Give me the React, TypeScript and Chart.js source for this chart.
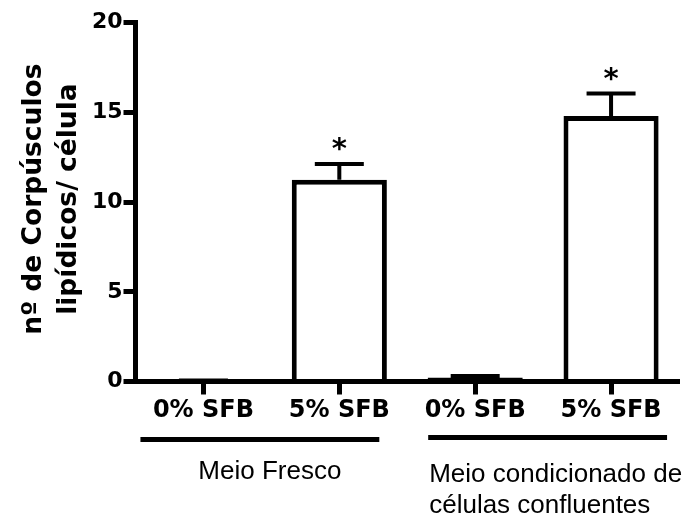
import React, { useEffect, useRef } from "react";
import { Chart, registerables } from "chart.js";

Chart.register(...registerables);

// ---- data ----
const categories = ["0% SFB", "5% SFB", "0% SFB", "5% SFB"];
const means = [0.03, 11.25, 0.22, 14.8];
const sems = [0.02, 0.88, 0.08, 1.25];
const significant = [false, true, false, true];
const yTickMin = 0;
const yTickMax = 20;
const yTickStep = 5;
const yTitleLines = ["nº de Corpúsculos", "lipídicos/ célula"];
const groupLabels = [["Meio Fresco"], ["Meio condicionado de", "células confluentes"]];
const groupRanges = [[0, 1], [2, 3]];

const BOLD = '"DejaVu Sans", sans-serif';
const REG = '"Liberation Sans", Arial, sans-serif';

const annotationsPlugin = {
  id: "annotations",
  afterDatasetsDraw(chart: any) {
    const ctx = chart.ctx;
    const x = chart.scales.x;
    const y = chart.scales.y;
    ctx.save();
    ctx.strokeStyle = "#000";
    ctx.fillStyle = "#000";
    ctx.lineWidth = 4;
    ctx.lineCap = "butt";
    means.forEach((m, i) => {
      const cx = x.getPixelForValue(i);
      const yTop = y.getPixelForValue(m);
      const yErr = y.getPixelForValue(m + sems[i]);
      ctx.beginPath();
      ctx.moveTo(cx, yTop);
      ctx.lineTo(cx, yErr);
      ctx.moveTo(cx - 24.5, yErr);
      ctx.lineTo(cx + 24.5, yErr);
      ctx.stroke();
      if (significant[i]) {
        ctx.font = "bold 29px " + BOLD;
        ctx.textAlign = "center";
        ctx.textBaseline = "alphabetic";
        ctx.fillText("*", cx, yErr - 6);
      }
    });
    ctx.restore();
  },
  afterDraw(chart: any) {
    const ctx = chart.ctx;
    const x = chart.scales.x;
    const area = chart.chartArea;
    ctx.save();
    ctx.fillStyle = "#000";
    ctx.strokeStyle = "#000";
    // group lines & labels
    const lineY = [439.5, 437.5];
    const lineOff = [[-63, 40], [-47, 56]];
    groupRanges.forEach((r, g) => {
      const x0 = x.getPixelForValue(r[0]) + lineOff[g][0];
      const x1 = x.getPixelForValue(r[1]) + lineOff[g][1];
      ctx.lineWidth = 5;
      ctx.beginPath();
      ctx.moveTo(x0, lineY[g]);
      ctx.lineTo(x1, lineY[g]);
      ctx.stroke();
      ctx.font = "26px " + REG;
      ctx.textBaseline = "alphabetic";
      const lines = groupLabels[g];
      if (lines.length === 1) {
        ctx.textAlign = "center";
        ctx.fillText(lines[0], (x0 + x1) / 2 + 10, 479);
      } else {
        ctx.textAlign = "left";
        lines.forEach((t, k) => ctx.fillText(t, x0 + 1, 482 + k * 31));
      }
    });
    // y title
    const cy = (area.top + area.bottom) / 2 - 3;
    ctx.save();
    ctx.translate(0, cy);
    ctx.rotate(-Math.PI / 2);
    ctx.font = "bold 26.5px " + BOLD;
    ctx.textAlign = "center";
    ctx.textBaseline = "alphabetic";
    ctx.fillText(yTitleLines[0], 0, 41);
    ctx.fillText(yTitleLines[1], 0, 76);
    ctx.restore();
    ctx.restore();
  },
};

export default function App() {
  const ref = useRef<HTMLCanvasElement | null>(null);
  useEffect(() => {
    if (!ref.current) return;
    const chart = new Chart(ref.current, {
      type: "bar",
      data: {
        labels: categories,
        datasets: [
          {
            data: means,
            backgroundColor: "#ffffff",
            borderColor: "#000000",
            borderWidth: 5,
            barPercentage: 0.7,
            categoryPercentage: 1.0,
          },
        ],
      },
      options: {
        responsive: false,
        animation: false,
        layout: { padding: { top: 22.7, right: 3, bottom: 0, left: 0 } },
        plugins: { legend: { display: false }, tooltip: { enabled: false }, title: { display: false } },
        scales: {
          x: {
            grid: { offset: false, drawOnChartArea: false, drawTicks: true, tickLength: 13, tickWidth: 5, tickColor: "#000", z: 1 },
            border: { display: true, width: 5, color: "#000", z: 1 },
            ticks: { color: "#000", font: { family: BOLD, size: 24, weight: "bold" }, padding: 2, maxRotation: 0 },
            afterFit(scale: any) {
              scale.height = 137.5;
            },
          },
          y: {
            min: yTickMin,
            max: yTickMax,
            grid: { drawOnChartArea: false, drawTicks: true, tickLength: 12, tickWidth: 5, tickColor: "#000" },
            border: { display: true, width: 5, color: "#000" },
            ticks: { stepSize: yTickStep, color: "#000", font: { family: BOLD, size: 22, weight: "bold" }, padding: 1 },
            afterFit(scale: any) {
              scale.width = 135.5;
            },
          },
        },
      },
      plugins: [annotationsPlugin],
    });
    return () => chart.destroy();
  }, []);
  return (
    <div style={{ position: "absolute", left: 0, top: 0, width: 682, height: 519, background: "#fff" }}>
      <canvas ref={ref} width={682} height={519} style={{ width: 682, height: 519, display: "block" }} />
    </div>
  );
}
